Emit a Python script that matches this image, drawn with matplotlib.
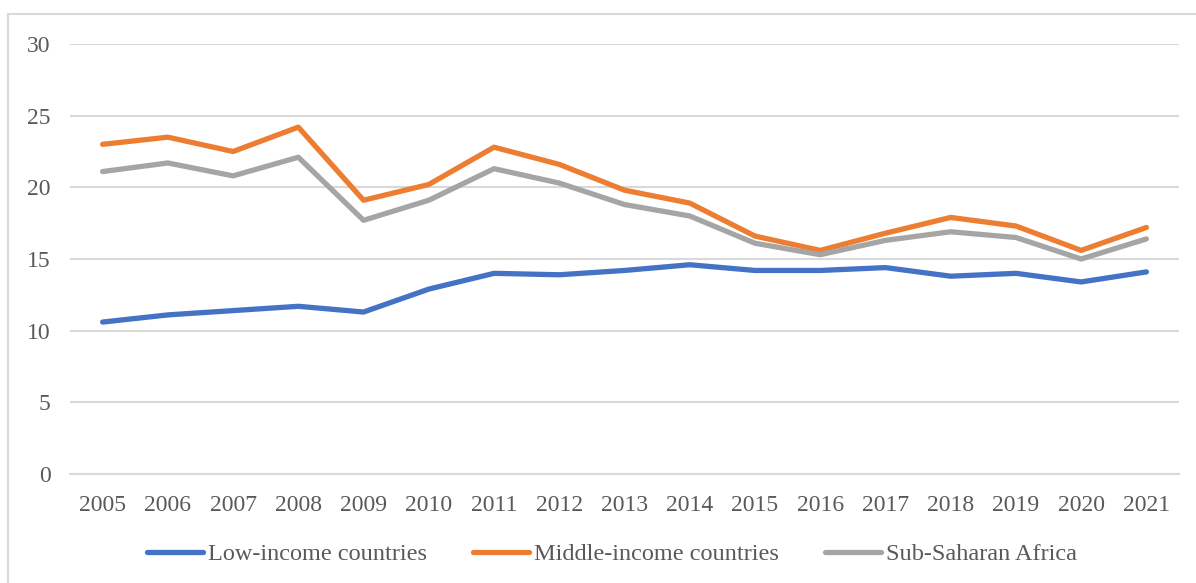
import matplotlib
matplotlib.use("Agg")
import matplotlib.pyplot as plt
from matplotlib.lines import Line2D

years = [str(y) for y in range(2005, 2022)]
low_income = [10.6, 11.1, 11.4, 11.7, 11.3, 12.9, 14.0, 13.9, 14.2, 14.6, 14.2, 14.2, 14.4, 13.8, 14.0, 13.4, 14.1]
middle_income = [23.0, 23.5, 22.5, 24.2, 19.1, 20.2, 22.8, 21.6, 19.8, 18.9, 16.6, 15.6, 16.8, 17.9, 17.3, 15.6, 17.2]
ssa = [21.1, 21.7, 20.8, 22.1, 17.7, 19.1, 21.3, 20.3, 18.8, 18.0, 16.1, 15.3, 16.3, 16.9, 16.5, 15.0, 16.4]
series_names = ["Low-income countries", "Middle-income countries", "Sub-Saharan Africa"]
y_ticks = [0, 5, 10, 15, 20, 25, 30]

colors = ["#4472C4", "#ED7D31", "#A5A5A5"]
text_color = "#595959"
grid_color = "#D9D9D9"

plt.rcParams["font.family"] = ["Liberation Serif", "DejaVu Serif"]

W, H = 1196, 583
fig = plt.figure(figsize=(W / 100, H / 100), dpi=100)
ax = fig.add_axes([70 / W, 1 - 474 / H, (1179 - 70) / W, (474 - 44) / H])

x = list(range(len(years)))
for vals, c, name in zip([low_income, middle_income, ssa], colors, series_names):
    ax.plot(x, vals, color=c, lw=3.8, solid_capstyle="round", solid_joinstyle="round", label=name, zorder=3)

ax.set_xlim(-0.5, len(years) - 0.5)
ax.set_ylim(0, 30)
ax.set_yticks(y_ticks)
ax.set_yticklabels([str(v) for v in y_ticks])
ax.set_xticks(x)
ax.set_xticklabels(years)
ax.grid(axis="y", color=grid_color, lw=1.5, zorder=0)
for s in ["top", "right", "left"]:
    ax.spines[s].set_visible(False)
ax.spines["bottom"].set_color(grid_color)
ax.spines["bottom"].set_linewidth(1.5)
ax.tick_params(axis="both", length=0, labelsize=17, colors=text_color)
ax.tick_params(axis="y", pad=14)
ax.tick_params(axis="x", pad=15)

leg = fig.legend(loc="center", bbox_to_anchor=(612 / W, 1 - 554 / H), ncol=3, frameon=False,
                 fontsize=17.5, handlelength=2.3, handletextpad=0.2, columnspacing=1.9)
for t in leg.get_texts():
    t.set_color(text_color)

# outer chart frame
fig.add_artist(Line2D([8 / W, 8 / W], [0, 1 - 14 / H], color=grid_color, lw=1.5, transform=fig.transFigure))
fig.add_artist(Line2D([8 / W, 1], [1 - 14 / H, 1 - 14 / H], color=grid_color, lw=1.5, transform=fig.transFigure))

fig.savefig("out.png", dpi=100)
